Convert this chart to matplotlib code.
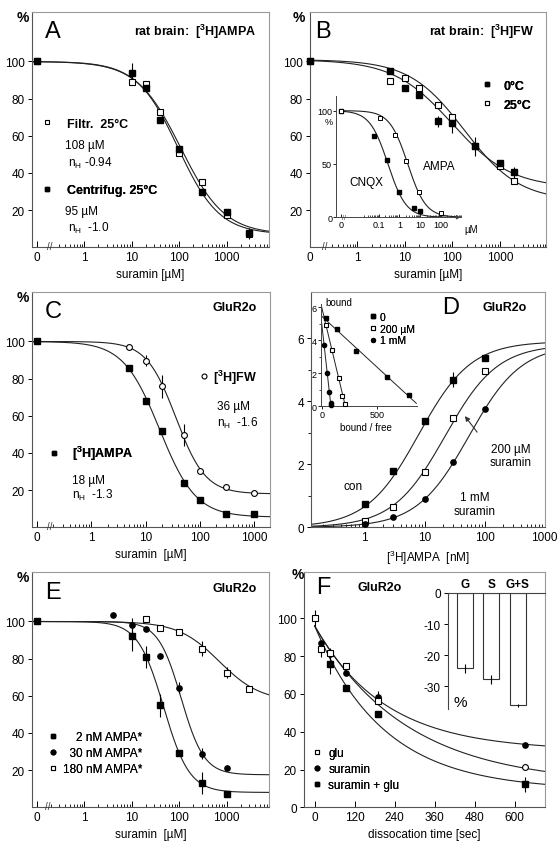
import numpy as np
import matplotlib
matplotlib.use('Agg')
import matplotlib.pyplot as plt
from matplotlib.lines import Line2D
from matplotlib import transforms

plt.rcParams['font.family'] = ['Liberation Sans', 'DejaVu Sans']
plt.rcParams['mathtext.fontset'] = 'custom'
plt.rcParams['mathtext.rm'] = 'Liberation Sans'
plt.rcParams['mathtext.bf'] = 'Liberation Sans:bold'
plt.rcParams['mathtext.it'] = 'Liberation Sans:italic'
plt.rcParams['font.size'] = 8.5
plt.rcParams['axes.linewidth'] = 0.8

W, H = 558, 845
ZERO = 0.1  # log position where the "0" concentration is drawn

# ---- A: rat brain [3H]AMPA, suramin [uM]
a_conc = [0, 10, 20, 40, 100, 300, 1000, 3000]
a_filtr = [100, 89, 88, 72.8, 51, 35.2, 17.3, 7.0]
a_centr = [100, 94, 85.7, 68.3, 52.8, 29.5, 18.8, 7.5]
a_centr_err = [0, 5, 0, 0, 0, 0, 2, 3]
a_fit_filtr = (108, 0.94, 7)   # IC50, nH, bottom
a_fit_centr = (95, 1.0, 7)

# ---- B: rat brain [3H]FW
b_conc = [0, 5, 10, 20, 50, 100, 300, 1000, 2000]
b_0c = [100, 94.9, 85.5, 81.7, 67.9, 66.7, 54.3, 45.6, 40.3]
b_25c = [100, 89.6, 91.0, 85.9, 76.4, 70.2, 54.3, 44.0, 35.8]
b_0c_err = [0, 0, 0, 0, 3, 5, 5, 0, 3]
b_fit_0c = (100, 0.7, 32)
b_fit_25c = (180, 0.75, 25)
# inset: CNQX / AMPA displacement
bi_cnqx_conc = [0, 0.06, 0.24, 1, 5, 10]
bi_cnqx = [100, 76.5, 53.8, 23.5, 8.7, 5.6]
bi_ampa_conc = [0, 0.12, 0.6, 2, 8.7, 95]
bi_ampa = [100, 93.1, 77.2, 52.5, 23.5, 3.8]
bi_fit_cnqx = (0.28, 1.0, 0)
bi_fit_ampa = (2.5, 1.0, 0)

# ---- C: GluR2o
c_conc = [0, 5, 10, 20, 50, 100, 300, 1000]
c_fw = [100, 97.3, 89.6, 75.8, 49.5, 30.5, 21.8, 18.7]
c_fw_err = [0, 0, 3, 6, 6, 0, 0, 0]
c_ampa = [100, 86, 68.1, 52, 23.6, 14.6, 6.9, 7.1]
c_fit_fw = (36, 1.6, 18)
c_fit_ampa = (18, 1.3, 5.5)

# ---- D: saturation, [3H]AMPA [nM]
d_conc = [1, 3, 10, 30, 100]
d_con = [0.74, 1.80, 3.38, 4.69, 5.37]
d_con_err = [0, 0, 0, 0.25, 0]
d_200 = [0.21, 0.63, 1.77, 3.46, 4.95]
d_1mm = [0.1, 0.32, 0.9, 2.06, 3.76]
d_fit = {'con': (5.9, 8), '200': (5.8, 22), '1mm': (5.8, 55)}  # Bmax, Kd
# inset: Scatchard
sc0_bf = [36, 136, 309, 596, 794]
sc0_b = [5.33, 4.68, 3.37, 1.76, 0.68]
sc200_bf = [36, 97, 157, 188, 212]
sc200_b = [4.93, 3.41, 1.72, 0.61, 0.14]
sc1_bf = [24, 48, 67, 82, 85]
sc1_b = [3.72, 2.02, 0.85, 0.2, 0.05]

# ---- E: GluR2o, three AMPA concentrations
e2_conc = [0, 10, 20, 40, 100, 300, 1000]
e2 = [100, 92, 81, 54.8, 29.3, 13.2, 7.3]
e2_err = [0, 8, 6, 6, 0, 6, 0]
e30_conc = [0, 4, 10, 20, 40, 100, 300, 1000]
e30 = [100, 103.7, 97.9, 95.7, 81.5, 64.4, 28.9, 21.2]
e30_err = [0, 0, 4, 0, 0, 3, 3, 0]
e180_conc = [20, 40, 100, 300, 1000, 3000]
e180 = [101.4, 96.5, 94.3, 85.4, 72.4, 63.6]
e180_err = [0, 0, 0, 4, 3, 0]
e_fit = {'2': (47, 1.6, 8), '30': (110, 1.8, 17.5), '180': (700, 1.0, 57)}

# ---- F: dissociation
f_glu_t = [0, 20, 45, 95, 190]
f_glu = [100.2, 83.8, 81.5, 74.9, 56.4]
f_glu_err = [4, 4, 3, 0, 0]
f_glu_end_t = [630]
f_glu_end = [21.2]
f_sur_t = [20, 45, 95, 190, 630]
f_sur = [86.8, 81, 70.9, 58.5, 33.0]
f_sur_err = [0, 0, 0, 3, 0]
f_sg_t = [45, 95, 190, 630]
f_sg = [75.8, 63.1, 49.4, 12.3]
f_sg_err = [5, 0, 0, 4]
f_fit = {'glu': (96, 12, 0.0036), 'sur': (96, 30, 0.00473), 'sg': (96, 9, 0.0048)}
bar_labels = ['G', 'S', 'G+S']
bar_vals = [-24.2, -27.8, -36.1]
bar_err = [1.5, 1.5, 0.5]

FS = dict(marker='s', ls='none', mfc='k', mec='k', ms=4.2)
OS = dict(marker='s', ls='none', mfc='white', mec='k', mew=0.8, ms=4.2)
FC = dict(marker='o', ls='none', mfc='k', mec='k', ms=3.8)
OC = dict(marker='o', ls='none', mfc='white', mec='k', mew=0.8, ms=4.2)
CURVE = dict(color='#222222', lw=0.8, zorder=2)
EB = dict(fmt='none', ecolor='k', elinewidth=0.8, capsize=0, zorder=2)

fig = plt.figure(figsize=(W / 100, H / 100), dpi=100)


def place(l, t, r, b):
    return fig.add_axes([l / W, 1 - b / H, (r - l) / W, (b - t) / H])


def ftext(x, y, s, **kw):
    kw.setdefault('ha', 'left')
    kw.setdefault('va', 'center')
    fig.text(x / W, 1 - y / H, s, **kw)


def hill(x, ic50, n, bottom, top=100):
    return bottom + (top - bottom) / (1 + (x / ic50) ** n)


def pos(conc, zero=ZERO):
    return [zero if c == 0 else c for c in conc]


def style(ax):
    ax.spines['top'].set_color('#999999')
    ax.spines['right'].set_color('#999999')
    ax.spines['left'].set_color('#555555')
    ax.spines['bottom'].set_color('#555555')
    ax.tick_params(axis='y', direction='out', length=3, width=0.7, pad=2, labelsize=8.5)
    ax.tick_params(axis='x', which='major', direction='in', length=4, width=0.7,
                   pad=3, labelsize=8.5)
    ax.tick_params(axis='x', which='minor', direction='in', length=2, width=0.6)


def key(ax, handles, labels, x, y, fs=8.5, gap=20, spacing=0.4, weight='normal'):
    fpx = fs * 100 / 72
    leg = ax.legend(handles, labels, loc='upper left',
                    bbox_to_anchor=((x - fpx / 2) / W, 1 - (y - 0.6 * fpx) / H),
                    bbox_transform=fig.transFigure, frameon=False, borderpad=0,
                    borderaxespad=0, handlelength=1, markerscale=0.85,
                    handletextpad=(gap - fpx / 2) / fpx, labelspacing=spacing,
                    prop={'size': fs, 'weight': weight})
    ax.add_artist(leg)


def suramin_axes(rect, xmin, xmax, brk, xlabel):
    ax = place(*rect)
    style(ax)
    ax.set_xscale('log')
    ax.set_xlim(xmin, xmax)
    ax.set_ylim(0, 126.8)
    ax.set_yticks([20, 40, 60, 80, 100])
    ax.set_xticks([0.1, 1, 10, 100, 1000])
    ax.set_xticklabels(['0', '1', '10', '100', '1000'])
    minors = [m * 10.0 ** k for k in range(-1, 4) for m in range(2, 10)]
    ax.set_xticks([m for m in minors if brk * 1.1 < m < xmax], minor=True)
    ax.xaxis.set_minor_formatter(plt.NullFormatter())
    tr = transforms.blended_transform_factory(ax.transData, ax.transAxes)
    ax.text(brk, 0.005, '//', transform=tr, ha='center', va='center', fontsize=7,
            color='#333333')
    ax.set_xlabel(xlabel, fontsize=8.5, labelpad=3)
    return ax


# ================= A =================
ax = suramin_axes((31.7, 12.7, 269.3, 248.3), 0.0785, 7900, 0.19, 'suramin [µM]')
xs = np.logspace(np.log10(0.0785), np.log10(7900), 300)
ax.plot(xs, hill(xs, *a_fit_filtr), **CURVE)
ax.plot(xs, hill(xs, *a_fit_centr), **CURVE)
ax.plot(pos(a_conc), a_filtr, zorder=3, **OS)
ax.errorbar(pos(a_conc), a_centr, yerr=a_centr_err, **EB)
ax.plot(pos(a_conc), a_centr, zorder=4, **FS)
key(ax, [Line2D([], [], **OS)], ['Filtr.  25°C'], 46.7, 126, fs=9, gap=20, weight='bold')
key(ax, [Line2D([], [], **FS)], ['Centrifug. 25°C'], 46.7, 192.7, fs=9, gap=20, weight='bold')
ftext(65.3, 146, '108 µM')
ftext(68.3, 163.3, 'n$_\\mathrm{H}$ -0.94')
ftext(65.3, 212.3, '95 µM')
ftext(68.3, 228.3, 'n$_\\mathrm{H}$  -1.0')
ftext(23.3, 18.3, '%', ha='center', fontsize=10, fontweight='bold')
ftext(53.3, 31.7, 'A', ha='center', fontsize=17)
ftext(256.7, 31.7, 'rat brain:  [$^\\mathbf{3}$H]AMPA', ha='right', fontsize=9,
      fontweight='bold')

# ================= B =================
ax = suramin_axes((309.7, 12.7, 546.3, 248.3), 0.1, 9500, 0.21, 'suramin [µM]')
xs = np.logspace(-1, np.log10(9500), 300)
ax.plot(xs, hill(xs, *b_fit_0c, top=101), **CURVE)
ax.plot(xs, hill(xs, *b_fit_25c, top=101), **CURVE)
ax.plot(pos(b_conc), b_25c, zorder=3, clip_on=False, **OS)
ax.errorbar(pos(b_conc), b_0c, yerr=b_0c_err, **EB)
ax.plot(pos(b_conc), b_0c, zorder=4, clip_on=False, **FS)
key(ax, [Line2D([], [], **FS), Line2D([], [], **OS)], ['0°C', '25°C'], 486.7, 88.3,
    fs=9, gap=16.7, spacing=0.55, weight='bold')
ftext(298.7, 18.3, '%', ha='center', fontsize=10, fontweight='bold')
ftext(323, 31.7, 'B', ha='center', fontsize=17)
ftext(534.7, 31.7, 'rat brain:  [$^\\mathbf{3}$H]FW', ha='right', fontsize=9,
      fontweight='bold')

# inset
ins = place(336.3, 96.7, 461, 218.3)
ins.patch.set_alpha(0)
ins.set_xscale('log')
ins.set_xlim(0.00093, 665)
ins.set_ylim(0, 114)
for s in ['top', 'right']:
    ins.spines[s].set_visible(False)
for s in ['left', 'bottom']:
    ins.spines[s].set_color('#444444')
    ins.spines[s].set_linewidth(0.7)
ins.set_yticks([0, 50, 100])
ins.set_xticks([0.0015, 0.1, 1, 10, 100])
ins.set_xticklabels(['0', '0.1', '1', '10', '100'])
ins.set_xticks([m * 10.0 ** k for k in range(-2, 3) for m in range(2, 10)], minor=True)
ins.xaxis.set_minor_formatter(plt.NullFormatter())
ins.tick_params(axis='y', direction='out', length=2, width=0.6, pad=1, labelsize=6.5)
ins.tick_params(axis='x', which='major', direction='in', length=2.5, width=0.6, pad=2,
                labelsize=6.5)
ins.tick_params(axis='x', which='minor', direction='in', length=1.5, width=0.5)
xs = np.logspace(np.log10(0.0015), np.log10(600), 300)
ins.plot(xs, hill(xs, *bi_fit_cnqx), **CURVE)
ins.plot(xs, hill(xs, *bi_fit_ampa), **CURVE)
ins.plot(pos(bi_cnqx_conc, 0.0015), bi_cnqx, zorder=3, clip_on=False,
         **dict(FS, ms=3.3))
ins.plot(pos(bi_ampa_conc, 0.0015), bi_ampa, zorder=4, clip_on=False,
         **dict(OS, ms=3.5, mew=0.7))
ins.annotate('', xy=(1.02, 0), xytext=(0.97, 0), xycoords='axes fraction',
             arrowprops=dict(arrowstyle='-|>', color='#444444', lw=0.7,
                             mutation_scale=6))
ins.text(0.0023, 0, '//', ha='center', va='center', fontsize=5, color='#444444')
ftext(329, 123, '%', ha='center', fontsize=6.5)
ftext(471, 230, 'µM', ha='center', fontsize=7)
ftext(366.3, 183.3, 'CNQX', ha='center', fontsize=8.5)
ftext(439.7, 166.7, 'AMPA', ha='center', fontsize=8.5)

# ================= C =================
ax = suramin_axes((31.7, 292.7, 270, 528.3), 0.0795, 1945, 0.173, 'suramin  [µM]')
xs = np.logspace(np.log10(0.0795), np.log10(1945), 300)
ax.plot(xs, hill(xs, *c_fit_fw), **CURVE)
ax.plot(xs, hill(xs, *c_fit_ampa), **CURVE)
ax.errorbar(pos(c_conc), c_fw, yerr=c_fw_err, **EB)
ax.plot(pos(c_conc), c_fw, zorder=3, **OC)
ax.plot(pos(c_conc), c_ampa, zorder=4, **FS)
key(ax, [Line2D([], [], **OC)], ['[$^\\mathbf{3}$H]FW'], 204, 376, fs=9, gap=9.3,
    weight='bold')
key(ax, [Line2D([], [], **FS)], ['[$^\\mathbf{3}$H]AMPA'], 54, 452.7, fs=9, gap=18.3,
    weight='bold')
ftext(216.7, 406.7, '36 µM')
ftext(216.7, 423.3, 'n$_\\mathrm{H}$  -1.6')
ftext(72.3, 480.7, '18 µM')
ftext(72.3, 495.3, 'n$_\\mathrm{H}$  -1.3')
ftext(23.3, 298.3, '%', ha='center', fontsize=10, fontweight='bold')
ftext(53.3, 311.7, 'C', ha='center', fontsize=17)
ftext(256.7, 308.3, 'GluR2o', ha='right', fontsize=9, fontweight='bold')

# ================= D =================
ax = place(311.3, 293.3, 544.7, 528.3)
style(ax)
ax.set_xscale('log')
ax.set_xlim(0.13, 1000)
ax.set_ylim(0, 7.46)
ax.set_yticks([0, 2, 4, 6])
ax.set_yticks([1, 3, 5], minor=True)
ax.tick_params(axis='y', which='minor', direction='out', length=2, width=0.6)
ax.set_xticks([1, 10, 100, 1000])
ax.set_xticklabels(['1', '10', '100', '1000'])
ax.set_xticks([m * 10.0 ** k for k in range(-1, 3) for m in range(2, 10)
               if m * 10.0 ** k > 0.13], minor=True)
ax.xaxis.set_minor_formatter(plt.NullFormatter())
ax.set_xlabel('[$^3$H]AMPA  [nM]', fontsize=8.5, labelpad=3)
xs = np.logspace(np.log10(0.13), 3, 300)
for k in ['con', '200', '1mm']:
    bmax, kd = d_fit[k]
    ax.plot(xs, bmax * xs / (kd + xs), **CURVE)
ax.errorbar(d_conc, d_con, yerr=d_con_err, **EB)
ax.plot(d_conc, d_con, zorder=4, **FS)
ax.plot(d_conc, d_200, zorder=4, **OS)
ax.plot(d_conc, d_1mm, zorder=4, **FC)
ax.annotate('', xy=(44, 3.6), xytext=(80, 2.95),
            arrowprops=dict(arrowstyle='-|>', color='#333333', lw=0.8,
                            mutation_scale=7))
ftext(353, 486.7, 'con', ha='center')
ftext(511, 456.7, '200 µM\nsuramin', ha='center', linespacing=1.15)
ftext(474.7, 505, '1 mM\nsuramin', ha='center', linespacing=1.15)
ftext(451, 308, 'D', ha='center', fontsize=17)
ftext(504.7, 308, 'GluR2o', ha='center', fontsize=9, fontweight='bold')

# inset Scatchard
ins = place(320.7, 305, 417.3, 407.3)
ins.patch.set_alpha(0)
ins.set_xlim(-9, 869)
ins.set_ylim(0, 6.2)
for s in ['top', 'right']:
    ins.spines[s].set_visible(False)
for s in ['left', 'bottom']:
    ins.spines[s].set_color('#444444')
    ins.spines[s].set_linewidth(0.7)
ins.set_yticks([0, 2, 4, 6])
ins.set_yticks([1, 3, 5], minor=True)
ins.set_xticks([0, 500])
ins.tick_params(axis='both', direction='out', length=2, width=0.6, pad=1, labelsize=6.5)
ins.tick_params(axis='y', which='minor', direction='out', length=1.5, width=0.5)
for bf, b, sty in [(sc0_bf, sc0_b, FS), (sc200_bf, sc200_b, OS), (sc1_bf, sc1_b, FC)]:
    slope, icpt = np.polyfit(bf, b, 1)
    x0 = max(0, (6.1 - icpt) / slope)
    x1 = min(-icpt / slope, 860)
    ins.plot([x0, x1], [icpt + slope * x0, icpt + slope * x1], color='#222222',
             lw=0.7, zorder=2)
    ins.plot(bf, b, zorder=3, clip_on=False, **dict(sty, ms=sty['ms'] * 0.8))
key(ins, [Line2D([], [], **dict(FS, ms=3.6)), Line2D([], [], **dict(OS, ms=3.8)),
          Line2D([], [], **dict(FC, ms=3.3))], ['0', '200 µM', '1 mM'], 372.7, 319.3,
    fs=7.5, gap=7, spacing=0.15)
ftext(325, 303, 'bound', fontsize=7)
ftext(366.3, 428.3, 'bound / free', ha='center', fontsize=7)

# ================= E =================
ax = suramin_axes((31.7, 572.7, 269.3, 808.3), 0.0785, 7900, 0.17, 'suramin  [µM]')
xs = np.logspace(np.log10(0.0785), np.log10(7900), 300)
for k in ['2', '30', '180']:
    ax.plot(xs, hill(xs, *e_fit[k]), **CURVE)
ax.errorbar(pos(e2_conc), e2, yerr=e2_err, **EB)
ax.errorbar(pos(e30_conc), e30, yerr=e30_err, **EB)
ax.errorbar(pos(e180_conc), e180, yerr=e180_err, **EB)
ax.plot(pos(e180_conc), e180, zorder=3, **OS)
ax.plot(pos(e30_conc), e30, zorder=4, **FC)
ax.plot(pos(e2_conc), e2, zorder=5, **FS)
key(ax, [Line2D([], [], **FS), Line2D([], [], **FC), Line2D([], [], **OS)],
    ['    2 nM AMPA*', '  30 nM AMPA*', '180 nM AMPA*'], 53.3, 739, gap=10, spacing=0.35)
ftext(23.3, 578.3, '%', ha='center', fontsize=10, fontweight='bold')
ftext(53.3, 593.3, 'E', ha='center', fontsize=17)
ftext(256.7, 589, 'GluR2o', ha='right', fontsize=9, fontweight='bold')

# ================= F =================
ax = place(304, 572.7, 544.7, 808.3)
style(ax)
ax.set_xlim(-32, 690)
ax.set_ylim(0, 124.7)
ax.set_xticks([0, 120, 240, 360, 480, 600])
ax.set_yticks([0, 20, 40, 60, 80, 100])
ax.set_xlabel('dissocation time [sec]', fontsize=8.5, labelpad=3)
ts = np.linspace(0, 690, 300)
for k in ['glu', 'sur', 'sg']:
    a0, plateau, rate = f_fit[k]
    ax.plot(ts, plateau + (a0 - plateau) * np.exp(-rate * ts), **CURVE)
ax.errorbar(f_glu_t, f_glu, yerr=f_glu_err, **EB)
ax.errorbar(f_sur_t, f_sur, yerr=f_sur_err, **EB)
ax.errorbar(f_sg_t, f_sg, yerr=f_sg_err, **EB)
ax.plot(f_sg_t, f_sg, zorder=3, **FS)
ax.plot(f_sur_t, f_sur, zorder=4, **FC)
ax.plot(f_glu_t, f_glu, zorder=5, **OS)
ax.plot(f_glu_end_t, f_glu_end, zorder=5, **OC)
key(ax, [Line2D([], [], **OS), Line2D([], [], **FC), Line2D([], [], **FS)],
    ['glu', 'suramin', 'suramin + glu'], 316.7, 755, gap=11.6, spacing=0.35)
ftext(298, 575, '%', ha='center', fontsize=10, fontweight='bold')
ftext(323.3, 588.3, 'F', ha='center', fontsize=17)
ftext(380, 588.3, 'GluR2o', ha='center', fontsize=9, fontweight='bold')

# inset bars
ins = place(447.7, 594, 544.7, 710)
ins.patch.set_alpha(0)
ins.bar(range(len(bar_vals)), bar_vals, width=0.6, color='white', edgecolor='#333333',
        lw=0.8, yerr=bar_err,
        error_kw=dict(elinewidth=0.8, ecolor='k', capsize=0))
ins.set_xlim(-0.66, 3.03)
ins.set_ylim(-37.3, 0)
for s in ['bottom', 'right']:
    ins.spines[s].set_visible(False)
for s in ['left', 'top']:
    ins.spines[s].set_color('#444444')
    ins.spines[s].set_linewidth(0.8)
ins.xaxis.tick_top()
ins.set_xticks(range(len(bar_labels)))
ins.set_xticklabels(bar_labels, fontweight='bold', fontsize=8.5)
ins.tick_params(axis='x', length=0, pad=2)
ins.set_yticks([0, -10, -20, -30])
ins.set_yticklabels(['0', '-10', '-20', '-30'])
ins.tick_params(axis='y', direction='out', length=3, width=0.7, pad=2, labelsize=8.5)
ftext(460, 703, '%', ha='center', fontsize=11)

fig.savefig('out.png', dpi=100)
